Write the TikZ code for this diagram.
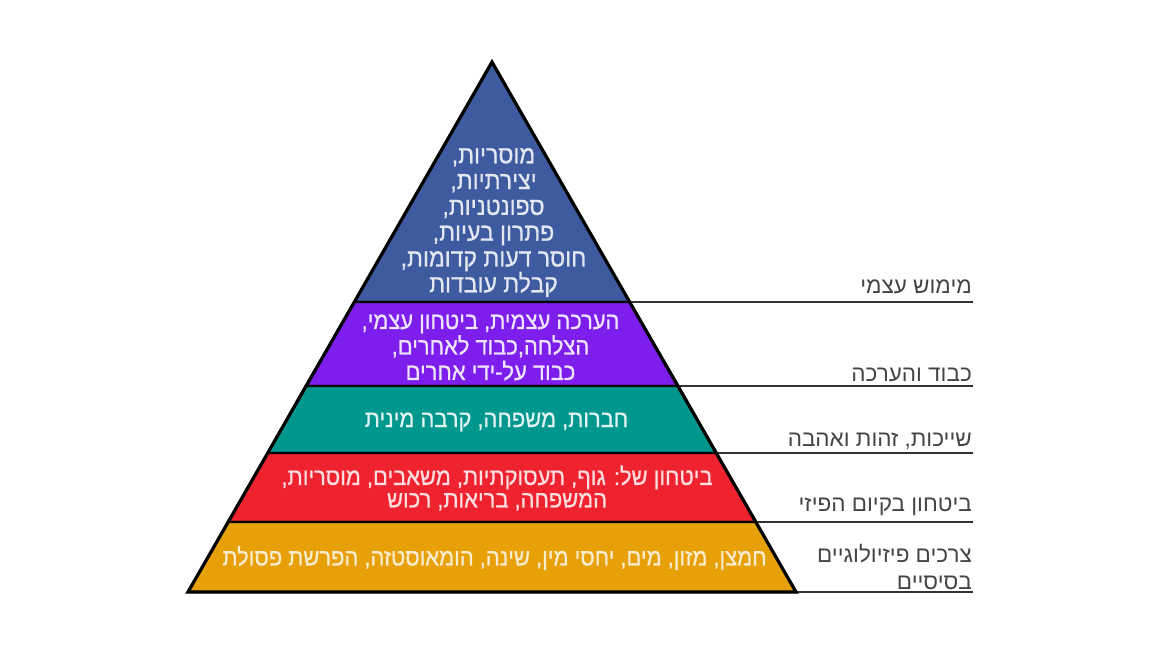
\documentclass[tikz,border=0pt]{standalone}
\usepackage{fontspec}
\setmainfont{Liberation Sans}
\newfontfamily\hebfont[Script=Hebrew]{Liberation Sans}
\newfontfamily\hebmed[Script=Hebrew,FakeBold=0.8,FakeStretch=0.92]{Liberation Sans}
\TeXXeTstate=1
\newcommand{\heb}[1]{\beginR #1\endR}
\definecolor{lvblue}{RGB}{62,91,160}
\definecolor{lvpurple}{RGB}{126,30,236}
\definecolor{lvteal}{RGB}{0,152,142}
\definecolor{lvred}{RGB}{239,35,47}
\definecolor{lvorange}{RGB}{232,160,8}
\definecolor{linegray}{RGB}{50,50,50}
\definecolor{labelgray}{RGB}{68,68,68}
\tikzset{
  level/.style={fill=#1, draw=black, line width=2.2pt, line join=miter},
  intext/.style={font=\hebmed\fontsize{23.8}{25.5}\selectfont, align=center, inner sep=0pt},
  sidelabel/.style={font=\hebfont\fontsize{22.5}{27}\selectfont, align=right, anchor=east, text=labelgray, inner sep=0pt},
  sideline/.style={draw=linegray, line width=1.8pt}
}
\begin{document}
\begin{tikzpicture}[x=1pt,y=-1pt]
\useasboundingbox (0,0) rectangle (1160,653);
% pyramid corner coordinates
\coordinate (top) at (492,62);
\coordinate (l1) at (354.3,302); \coordinate (r1) at (629.7,302);
\coordinate (l2) at (305.6,386); \coordinate (r2) at (678.4,386);
\coordinate (l3) at (267.7,453); \coordinate (r3) at (716.3,453);
\coordinate (l4) at (228.2,522); \coordinate (r4) at (755.8,522);
\coordinate (l5) at (188,592);   \coordinate (r5) at (796,592);
% line ends
\coordinate (e1) at (973,302);
\coordinate (e2) at (973,386);
\coordinate (e3) at (973,453);
\coordinate (e4) at (973,522);
\coordinate (e5) at (973,592);
% side lines
\draw[sideline] (r1) -- (e1);
\draw[sideline] (r2) -- (e2);
\draw[sideline] (r3) -- (e3);
\draw[sideline] (r4) -- (e4);
\draw[sideline] (r5) -- (e5);
% levels
\path[level=lvblue] (top) -- (r1) -- (l1) -- cycle;
\path[level=lvpurple] (l1) -- (r1) -- (r2) -- (l2) -- cycle;
\path[level=lvteal] (l2) -- (r2) -- (r3) -- (l3) -- cycle;
\path[level=lvred] (l3) -- (r3) -- (r4) -- (l4) -- cycle;
\path[level=lvorange] (l4) -- (r4) -- (r5) -- (l5) -- cycle;
\draw[line width=3.2pt, line join=miter] (top) -- (r5) -- (l5) -- cycle;
% texts inside
\node[intext, text=white!85!lvblue, font=\hebmed\fontsize{25}{25.8}\selectfont] (tblue) at (493.5,222.5)
  {\heb{מוסריות,}\\\heb{יצירתיות,}\\\heb{ספונטניות,}\\\heb{פתרון בעיות,}\\\heb{חוסר דעות קדומות,}\\\heb{קבלת עובדות}};
\node[intext, text=white!88!lvpurple] (tpurple) at (490.5,347.5)
  {\heb{הערכה עצמית, ביטחון עצמי,}\\\heb{הצלחה,כבוד לאחרים,}\\\heb{כבוד על-ידי אחרים}};
\node[intext, text=white!88!lvteal] (tteal) at (496.5,422)
  {\heb{חברות, משפחה, קרבה מינית}};
\node[intext, text=white!85!lvred, font=\hebmed\fontsize{23.8}{22.5}\selectfont] (tred) at (497,488)
  {\heb{ביטחון של: גוף, תעסוקתיות, משאבים, מוסריות,}\\\heb{המשפחה, בריאות, רכוש}};
\node[intext, text=white!80!lvorange] (torange) at (494.5,558)
  {\heb{חמצן, מזון, מים, יחסי מין, שינה, הומאוסטזה, הפרשת פסולת}};
% side labels
\node[sidelabel] (s1) at (972,287) {\heb{מימוש עצמי}};
\node[sidelabel] (s2) at (972,375) {\heb{כבוד והערכה}};
\node[sidelabel] (s3) at (972,441) {\heb{שייכות, זהות ואהבה}};
\node[sidelabel] (s4) at (972,507) {\heb{ביטחון בקיום הפיזי}};
\node[sidelabel] (s5) at (972,566.5) {\heb{צרכים פיזיולוגיים}\\\heb{בסיסיים}};
\end{tikzpicture}
\end{document}
